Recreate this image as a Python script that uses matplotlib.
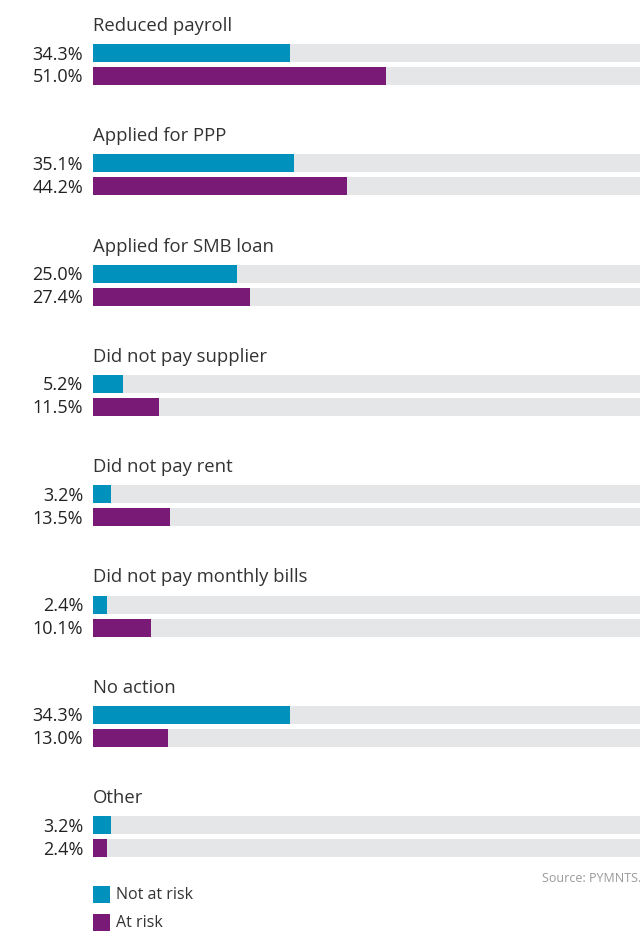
import matplotlib
matplotlib.use("Agg")
import matplotlib.pyplot as plt
from matplotlib.patches import Rectangle

categories = ["Reduced payroll", "Applied for PPP", "Applied for SMB loan",
              "Did not pay supplier", "Did not pay rent", "Did not pay monthly bills",
              "No action", "Other"]
not_at_risk = [34.3, 35.1, 25.0, 5.2, 3.2, 2.4, 34.3, 3.2]
at_risk = [51.0, 44.2, 27.4, 11.5, 13.5, 10.1, 13.0, 2.4]
series_names = ["Not at risk", "At risk"]
colors = ["#0092BC", "#7A1A77"]
track_color = "#E5E6E8"

plt.rcParams['font.family'] = ['Open Sans', 'DejaVu Sans']

W, H = 640, 931
fig = plt.figure(figsize=(W / 100, H / 100), dpi=100)
ax = fig.add_axes([0, 0, 1, 1])
ppu = 5.74  # pixels per percent
x0 = 93
ax.set_xlim(-x0 / ppu, (W - x0) / ppu)
ax.set_ylim(H, 0)
ax.axis("off")

group_top = 44
group_step = 110.3
bar_h = 18
bar_gap = 23

for i, cat in enumerate(categories):
    top = group_top + i * group_step
    yc = [top + bar_h / 2, top + bar_gap + bar_h / 2]
    for j, vals in enumerate([not_at_risk, at_risk]):
        ax.barh(yc[j], 100, height=bar_h, left=0, color=track_color, lw=0)
        ax.barh(yc[j], vals[i], height=bar_h, left=0, color=colors[j], lw=0)
        ax.text(-10 / ppu, yc[j] + 1.5, f"{vals[i]:.1f}%", ha="right", va="center",
                fontsize=13, color="#222222")
    ax.text(0, top - 18, cat, ha="left", va="center", fontsize=13.3, color="#333333")

ax.text((W - x0 + 1) / ppu, 879, "Source: PYMNTS.", ha="right", va="center",
        fontsize=9, color="#9A9A9A")

leg_y = [894, 922]
for j, name in enumerate(series_names):
    ax.add_patch(Rectangle((0, leg_y[j] - 8.5), 17 / ppu, 17, color=colors[j], lw=0))
    ax.text(23 / ppu, leg_y[j] + 1, name, ha="left", va="center", fontsize=11.5, color="#333333")

fig.savefig("out.png", dpi=100, facecolor="white")
